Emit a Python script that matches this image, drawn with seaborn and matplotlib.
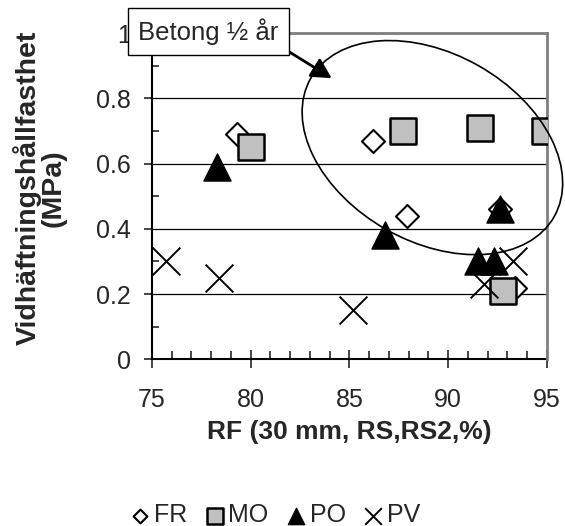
import numpy as np
import pandas as pd
import matplotlib.pyplot as plt
import matplotlib.transforms as transforms
from matplotlib.patches import Ellipse
import seaborn as sns

# Data
fr_x = [79.3, 86.2, 87.9, 92.6, 93.4]
fr_y = [0.69, 0.67, 0.44, 0.46, 0.22]
mo_x = [80.0, 87.7, 91.6, 94.9, 92.8]
mo_y = [0.65, 0.70, 0.71, 0.70, 0.21]
po_x = [78.3, 86.8, 91.5, 92.3, 92.6]
po_y = [0.59, 0.38, 0.30, 0.30, 0.46]
pv_x = [75.7, 78.4, 85.2, 91.8, 93.3]
pv_y = [0.30, 0.25, 0.15, 0.23, 0.30]
y_ticks = [0, 0.2, 0.4, 0.6, 0.8, 1.0]
y_ticklabels = ["0", "0.2", "0.4", "0.6", "0.8", "1"]
x_ticks = [75, 80, 85, 90, 95]

sns.set_style("white")
plt.rcParams['font.family'] = ['Liberation Sans', 'DejaVu Sans']
plt.rcParams['font.size'] = 18

fig = plt.figure(figsize=(5.65, 5.26), dpi=100)
ax = fig.add_axes([0.269, 0.317, 0.699, 0.620])

#%%
# Scatter series
sns.scatterplot(x=fr_x, y=fr_y, marker="D", s=137, color="white",
                edgecolor="black", linewidth=1.5, label="FR", ax=ax, zorder=3)
sns.scatterplot(x=mo_x, y=mo_y, marker="s", s=360, color="#c0c0c0",
                edgecolor="black", linewidth=1.8, label="MO", ax=ax, zorder=3)
sns.scatterplot(x=po_x, y=po_y, marker="^", s=380, color="black",
                edgecolor="black", linewidth=1, label="PO", ax=ax, zorder=3)
sns.scatterplot(x=pv_x, y=pv_y, marker="x", s=400, color="black",
                linewidth=1.4, label="PV", ax=ax, zorder=3)

#%%
# Axes styling
ax.set_xlim(75, 95)
ax.set_ylim(0, 1)
ax.set_xticks(x_ticks)
ax.set_xticks(np.arange(75, 96, 1), minor=True)
ax.set_yticks(y_ticks)
ax.set_yticklabels(y_ticklabels)
ax.set_yticks(np.arange(0, 1.01, 0.1), minor=True)
ax.tick_params(axis="x", which="major", direction="inout", length=13,
               width=1.2, pad=14, labelsize=18, bottom=True)
ax.tick_params(axis="x", which="minor", direction="in", length=6,
               width=1.2, bottom=True)
ax.tick_params(axis="y", which="major", direction="out", length=6,
               width=1.2, pad=9, labelsize=18, left=True)
ax.tick_params(axis="y", which="minor", direction="in", length=5,
               width=1.2, left=True)

ax.yaxis.grid(True, color="black", linewidth=0.9)
ax.xaxis.grid(False)
for side in ["left", "bottom"]:
    ax.spines[side].set_color("black")
    ax.spines[side].set_linewidth(1.5)
for side in ["top", "right"]:
    ax.spines[side].set_color("#808080")
    ax.spines[side].set_linewidth(2)
    ax.spines[side].set_zorder(2.6)

ax.set_xlabel("RF (30 mm, RS,RS2,%)", fontweight="bold", fontsize=19)
ax.set_ylabel("Vidhäftningshållfasthet\n(MPa)", fontweight="bold",
              fontsize=20.5, linespacing=0.95)
ax.xaxis.set_label_coords(0.5, -0.223)
ax.xaxis.label.set_va("center")
ax.yaxis.set_label_coords(-0.284, 0.525)
ax.yaxis.label.set_va("center")

#%%
# Ellipse and annotation
trans = fig.dpi_scale_trans + transforms.ScaledTranslation(89.2, 0.649, ax.transData)
ell = Ellipse((0, 0), 2.80, 1.88, angle=-29.6, transform=trans,
              fill=False, edgecolor="black", linewidth=1.2, clip_on=False, zorder=4)
ax.add_patch(ell)

ax.annotate("Betong ½ år", xy=(84.1, 0.862), xytext=(77.85, 1.004),
            ha="center", va="center", fontsize=18.5, zorder=6,
            bbox=dict(boxstyle="square,pad=0.4", fc="white", ec="black", lw=1),
            arrowprops=dict(arrowstyle="-|>,head_length=0.65,head_width=0.35",
                            color="black", lw=2, shrinkA=0, shrinkB=0,
                            relpos=(1.0, 0.0)),
            annotation_clip=False)

#%%
# Legend below the chart
handles, labels = ax.get_legend_handles_labels()
ax.get_legend().remove()
fig.legend(handles, labels, loc="center", bbox_to_anchor=(0.485, 0.02), ncol=4,
           frameon=False, markerscale=0.6, handletextpad=0.05,
           columnspacing=0.6, handlelength=1.0, fontsize=18)

fig.savefig("out.png", dpi=100)
